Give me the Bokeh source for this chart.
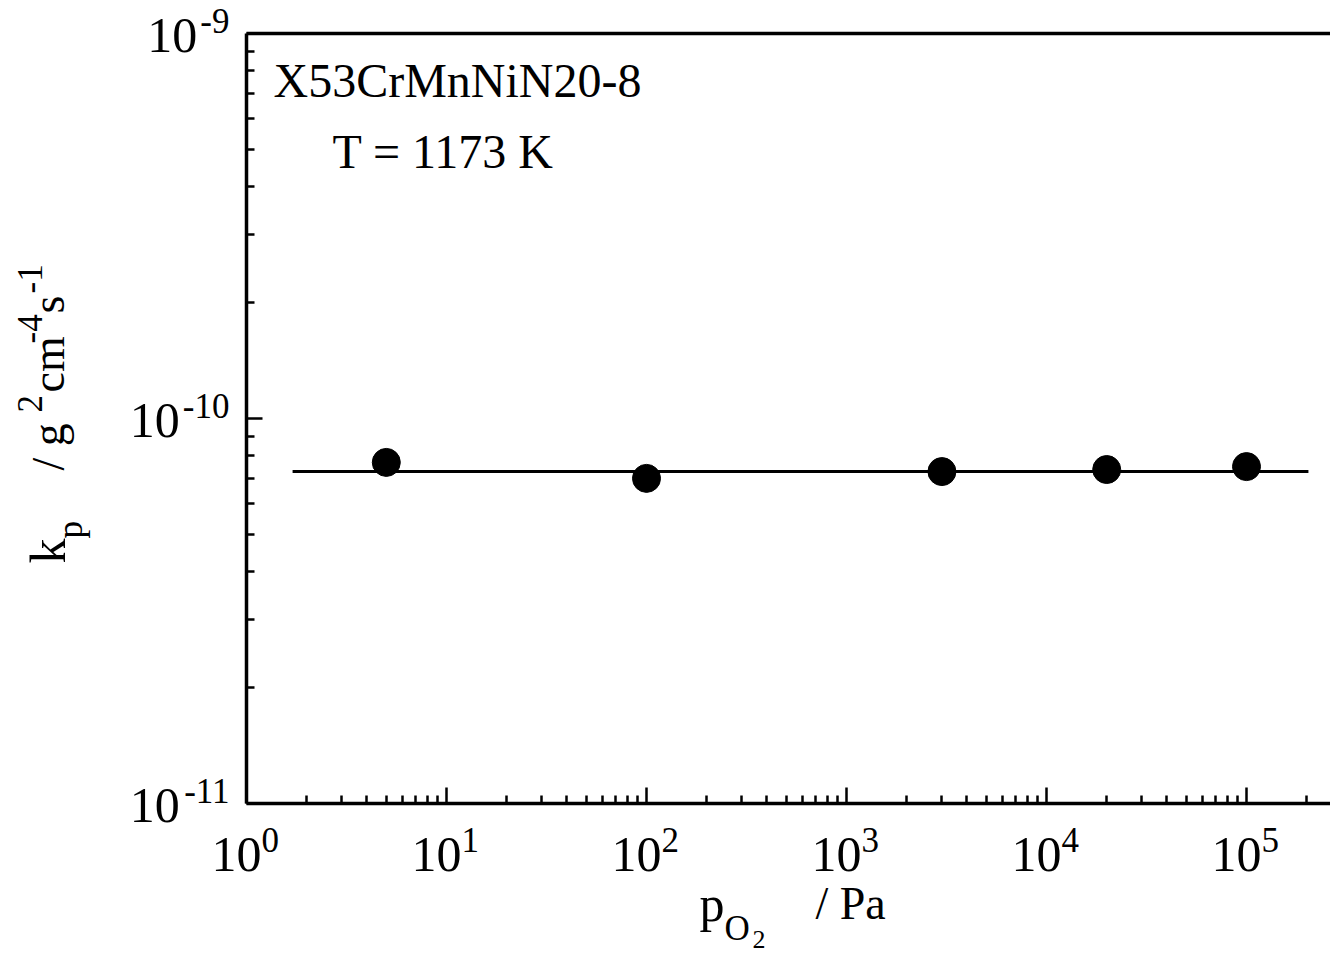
import math
from bokeh.plotting import figure
from bokeh.models import Range1d, LogAxis, FixedTicker, LinearScale
from bokeh.core.properties import value
from bokeh.embed import file_html
from bokeh.resources import INLINE

# ---- data ----
p_o2 = [5, 100, 3000, 20000, 100000]            # Pa
kp = [7.69e-11, 6.99e-11, 7.28e-11, 7.37e-11, 7.50e-11]  # g^2 cm^-4 s^-1
fit_x = [1.7, 2.04e5]
fit_y = [7.28e-11, 7.28e-11]

x_major = [1, 10, 100, 1000, 1e4, 1e5]
x_exp = ["0", "1", "2", "3", "4", "5"]
y_major = [1e-11, 1e-10, 1e-9]
y_exp = ["-11", "-10", "-9"]

alloy = "X53CrMnNiN20-8"
temp = "T = 1173 K"

FONT = "Liberation Serif"
BIAS = 0.36          # shift of Bokeh's "alphabetic" anchor, as a fraction of the font size
W, H = 1330, 955
AX_L, AX_T, AX_B = 246, 33, 803    # where the axes sit on the page
X_END = 10 ** 5.42
lx0, lx1 = math.log10(x_major[0]), math.log10(X_END)
ly0, ly1 = math.log10(y_major[0]), math.log10(y_major[-1])
dx = (lx1 - lx0) / (W - AX_L)      # decades per pixel
dy = (ly1 - ly0) / (AX_B - AX_T)

# the frame fills the whole page; the axes are pinned at fixed data locations
p = figure(width=W, height=H, x_axis_type="log", y_axis_type="log",
           x_range=Range1d(10 ** (lx0 - AX_L * dx), X_END),
           y_range=Range1d(10 ** (ly0 - (H - AX_B) * dy), 10 ** (ly1 + AX_T * dy)),
           min_border_left=0, min_border_right=0, min_border_top=0, min_border_bottom=0,
           output_backend="svg", toolbar_location=None)
p.outline_line_color = None
p.grid.visible = False
p.background_fill_color = "white"
p.border_fill_color = "white"

x_minor = [d * m for d in x_major for m in range(2, 10) if d * m <= X_END]
y_minor = [d * m for d in y_major[:-1] for m in range(2, 10)]

def style_axis(ax, major, minor):
    ax.ticker = FixedTicker(ticks=major, minor_ticks=minor)
    ax.axis_line_width = 3.5
    ax.axis_line_color = "black"
    ax.major_tick_in = 16
    ax.major_tick_out = 0
    ax.minor_tick_in = 8
    ax.minor_tick_out = 0
    ax.major_tick_line_width = 2.5
    ax.minor_tick_line_width = 2.5
    ax.major_tick_line_color = "black"
    ax.minor_tick_line_color = "black"
    ax.major_label_text_font_size = "0px"
    ax.major_label_text_color = None
    ax.major_label_standoff = 0

xa, ya = p.xaxis[0], p.yaxis[0]
style_axis(xa, x_major, x_minor)
style_axis(ya, y_major, y_minor)
xa.fixed_location = y_major[0]
xa.bounds = (x_major[0], X_END)
ya.fixed_location = x_major[0]
ya.bounds = (y_major[0], y_major[-1])

top = LogAxis(ticker=FixedTicker(ticks=[], minor_ticks=[]),
              fixed_location=y_major[-1], bounds=(x_major[0], X_END))
top.axis_line_width = 3.5
top.axis_line_color = "black"
top.major_tick_line_color = None
top.minor_tick_line_color = None
top.major_label_text_font_size = "0px"
top.major_label_text_color = None
top.major_label_standoff = 0
p.add_layout(top, "above")

p.line(fit_x, fit_y, line_width=3, line_color="black")
p.scatter(p_o2, kp, size=28, fill_color="black", line_color="black")

# page-pixel ranges for the free texts (titles, annotations)
p.extra_x_ranges = {"px": Range1d(0, W)}
p.extra_y_ranges = {"px": Range1d(H, 0)}
p.extra_x_scales = {"px": LinearScale()}
p.extra_y_scales = {"px": LinearScale()}

def txt(xs, ys, texts, size, align="left", angle=0.0, xr="default", yr="default",
        x_offset=0, y_offset=0):
    p.text(x=xs, y=ys, text=texts, angle=angle, x_offset=x_offset, y_offset=y_offset,
           text_font=value(FONT), text_font_size=value(f"{size}px"),
           text_color="black", text_align=align, text_baseline="alphabetic",
           x_range_name=xr, y_range_name=yr)

def htxt(X, Y, text, size, align="left"):
    txt([X], [Y - BIAS * size], [text], size, align=align, xr="px", yr="px")

def vtxt(X, Y, text, size):
    txt([X - BIAS * size], [Y], [text], size, angle=math.pi / 2, xr="px", yr="px")

# x tick labels (10 + superscript exponent), anchored at the tick values
n = len(x_major)
txt(x_major, [y_major[0]] * n, ["10"] * n, 50, align="right",
    x_offset=15, y_offset=69 - BIAS * 50)
txt(x_major, [y_major[0]] * n, x_exp, 35, align="left",
    x_offset=15, y_offset=49 - BIAS * 35)

# y tick labels
m = len(y_major)
exp_w = []
for e in y_exp:
    n_minus = e.count("-")
    exp_w.append(35 * (0.333 * n_minus + 0.5 * (len(e) - n_minus)))
txt([x_major[0]] * m, y_major, y_exp, 35, align="right",
    x_offset=-17, y_offset=-BIAS * 35)
txt([x_major[0]] * m, y_major, ["10"] * m, 50, align="right",
    x_offset=[-20 - w for w in exp_w], y_offset=20 - BIAS * 50)

# y axis title (reads bottom to top)
vtxt(65, 563, "k", 50)
vtxt(83, 538, "p", 35)
vtxt(65, 470, "/ g", 46)
vtxt(42, 412, "2", 35)
vtxt(65, 392, "cm", 46)
vtxt(42, 343, "-4", 35)
vtxt(65, 313, "s", 46)
vtxt(42, 293, "-1", 35)

# x axis title
htxt(699, 921, "p", 50)
htxt(724, 941, "O", 35)
htxt(752, 948, "2", 26)
htxt(815, 920, "/ Pa", 46)

# annotations inside the plot
htxt(273, 97, alloy, 48)
htxt(332, 168, temp, 48)

open("out.html", "w").write(file_html(p, INLINE))
